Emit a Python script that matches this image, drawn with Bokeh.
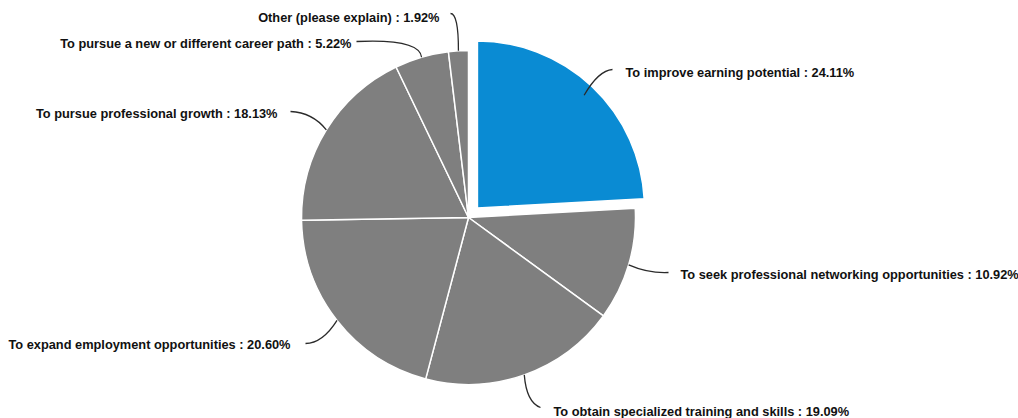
import math
from bokeh.plotting import figure
from bokeh.models import Range1d, ColumnDataSource
from bokeh.core.properties import value
from bokeh.embed import file_html
from bokeh.resources import INLINE

# ---- data ----
categories = [
    "To improve earning potential",
    "To seek professional networking opportunities",
    "To obtain specialized training and skills",
    "To expand employment opportunities",
    "To pursue professional growth",
    "To pursue a new or different career path",
    "Other (please explain)",
]
percents = [24.11, 10.92, 19.09, 20.60, 18.13, 5.22, 1.92]
highlight = [True, False, False, False, False, False, False]

# ---- layout / style ----
W, H = 1018, 418
CX, CY = 468, 217          # pie centre in pixel coords (y down)
R = 167
EXPLODE = 13
BLUE = "#0a8bd3"
GRAY = "#7f7f7f"

# label placement (pixel coords, y down): x, y, align, leader end, leader ctrl
label_layout = [
    (625, 72, "left", (612, 69), (598, 70)),
    (680, 274, "left", (668, 272), (648, 273)),
    (553, 411, "left", (540, 407), (526, 402)),
    (290, 344, "right", (305, 343), (322, 343)),
    (277, 113, "right", (290, 111), (312, 112)),
    (351, 43, "right", (356, 41), (419, 38)),
    (439, 17, "right", (450, 13), (458, 13)),
]

def fy(py):
    return H - py

p = figure(width=W, height=H, output_backend="svg", toolbar_location=None,
           x_range=Range1d(0, W), y_range=Range1d(0, H),
           min_border=0, min_border_left=0, min_border_right=0,
           min_border_top=0, min_border_bottom=0)
p.axis.visible = False
p.grid.visible = False
p.outline_line_color = None
p.background_fill_color = "white"
p.border_fill_color = "white"

total = sum(percents)
cum = 0.0
xs, ys, starts, ends, colors = [], [], [], [], []
lx0, ly0, lx1, ly1, lcx, lcy = [], [], [], [], [], []
tx, ty, tt, ta = [], [], [], []
for i, (cat, pct) in enumerate(zip(categories, percents)):
    a0 = math.radians(90 - 360 * (cum + pct) / total)
    a1 = math.radians(90 - 360 * cum / total)
    mid = (a0 + a1) / 2
    cx, cy = CX, CY
    rr = R
    if highlight[i]:
        cx = CX + EXPLODE * math.cos(mid)
        cy = CY - EXPLODE * math.sin(mid)
        rr = R * 0.93
    xs.append(cx); ys.append(fy(cy)); starts.append(a0); ends.append(a1)
    colors.append(BLUE if highlight[i] else GRAY)
    # leader line
    sx = cx + rr * math.cos(mid)
    sy = cy - rr * math.sin(mid)
    lay = label_layout[i]
    lx0.append(sx); ly0.append(fy(sy))
    lx1.append(lay[3][0]); ly1.append(fy(lay[3][1]))
    lcx.append(lay[4][0]); lcy.append(fy(lay[4][1]))
    tx.append(lay[0]); ty.append(fy(lay[1]))
    tt.append(f"{cat} : {pct:.2f}%"); ta.append(lay[2])
    cum += pct

src = ColumnDataSource(dict(x=xs, y=ys, start=starts, end=ends, color=colors))
p.wedge(x="x", y="y", radius=R, radius_units="screen", start_angle="start", end_angle="end",
        fill_color="color", line_color="white", line_width=1.5, source=src)

p.quadratic(x0=lx0, y0=ly0, x1=lx1, y1=ly1, cx=lcx, cy=lcy,
            line_color="#2b2b2b", line_width=1.3)

tsrc = ColumnDataSource(dict(x=tx, y=ty, t=tt, a=ta))
p.text(x="x", y="y", text="t", text_align="a", text_baseline="middle",
       text_font=value("Liberation Sans"), text_font_style="bold",
       text_font_size="12.8px", text_color="#111111", source=tsrc)

open("out.html", "w").write(file_html(p, INLINE))
